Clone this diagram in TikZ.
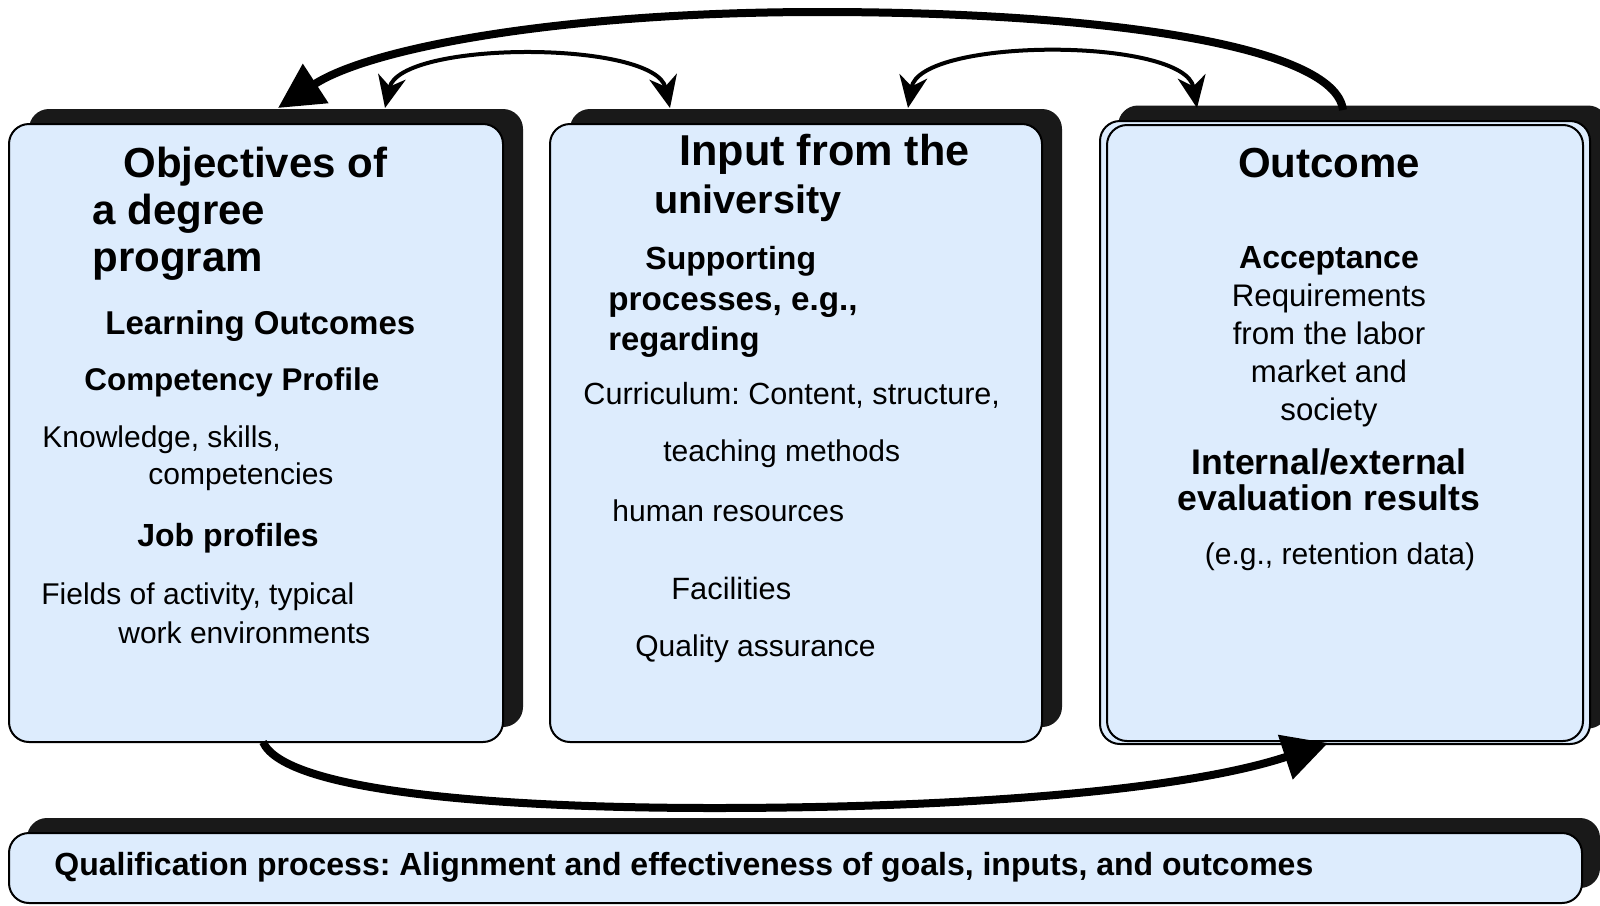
\documentclass[tikz,border=0pt]{standalone}
\usepackage{fontspec}
\setmainfont{Liberation Sans}
\frenchspacing
\usetikzlibrary{arrows.meta}
\definecolor{boxblue}{RGB}{221,236,253}
\begin{document}
\begin{tikzpicture}[x=0.5pt,y=-0.5pt,
  box/.style={draw=black, line width=1pt, fill=boxblue, rounded corners=10pt, inner sep=0pt},
  shade/.style={fill=black!90, draw=none, rounded corners=10pt, inner sep=0pt},
  ttl/.style={anchor=base west, inner sep=0pt, font=\fontsize{21}{24}\selectfont\bfseries},
  sub/.style={anchor=base west, inner sep=0pt, font=\fontsize{16}{19}\selectfont\bfseries},
  txt/.style={anchor=base west, inner sep=0pt, font=\fontsize{15}{18}\selectfont},
  ctr/.style={anchor=base},
  bigarrow/.style={line width=4pt, -{Triangle[length=22.5pt, width=22.5pt]}},
  twoway/.style={line width=2pt, {Stealth[length=16pt, width=14pt, inset=5pt]}-{Stealth[length=16pt, width=14pt, inset=5pt]}}
]
\useasboundingbox (0,0) rectangle (1600,905);

% shadows
\node[shade, minimum width=247pt, minimum height=309pt] (s1) at (276,418) {};
\node[shade, minimum width=246pt, minimum height=309pt] (s2) at (816,418) {};
\node[shade, minimum width=245pt, minimum height=311.5pt] (s3) at (1363,417) {};
\node[shade, minimum width=786.5pt, minimum height=35pt] (s4) at (813.5,853) {};

% boxes
\node[box, minimum width=247pt, minimum height=309pt] (b1) at (256,433) {};
\node[box, minimum width=246pt, minimum height=309pt] (b2) at (796,433) {};
\node[box, minimum width=245pt, minimum height=311.5pt] (b3back) at (1345,432.5) {};
\node[box, minimum width=238pt, minimum height=308pt] (b3) at (1345,433) {};
\node[box, minimum width=786.5pt, minimum height=35pt] (b4) at (795.5,868) {};

% box 1 text
\node[ttl] (t1a) at (123,177) {Objectives of};
\node[ttl] (t1b) at (92,224) {a degree};
\node[ttl] (t1c) at (92,271) {program};
\node[sub, font=\fontsize{16.5}{19}\selectfont\bfseries] (t1d) at (105,334) {Learning Outcomes};
\node[sub, font=\fontsize{15.7}{19}\selectfont\bfseries] (t1e) at (84,390) {Competency Profile};
\node[txt] (t1f) at (42,447) {Knowledge, skills,};
\node[txt] (t1g) at (148,484) {competencies};
\node[sub] (t1h) at (137,546) {Job profiles};
\node[txt] (t1i) at (41,604) {Fields of activity, typical};
\node[txt] (t1j) at (118,643) {work environments};

% box 2 text
\node[ttl, font=\fontsize{21.6}{24}\selectfont\bfseries] (t2a) at (679,165) {Input from the};
\node[ttl, font=\fontsize{19.8}{24}\selectfont\bfseries] (t2b) at (654,213) {university};
\node[sub] (t2c) at (645,269) {Supporting};
\node[sub, font=\fontsize{16.6}{19}\selectfont\bfseries] (t2d) at (608,310) {processes, e.g.,};
\node[sub, font=\fontsize{16.4}{19}\selectfont\bfseries] (t2e) at (608,350) {regarding};
\node[txt, font=\fontsize{15.3}{18}\selectfont] (t2f) at (583,404) {Curriculum: Content, structure,};
\node[txt] (t2g) at (663,461) {teaching methods};
\node[txt] (t2h) at (612,521) {human resources};
\node[txt, font=\fontsize{15.4}{18}\selectfont] (t2i) at (671,599) {Facilities};
\node[txt] (t2j) at (635,656) {Quality assurance};

% box 3 text
\node[ttl, ctr] (t3a) at (1329,177) {Outcome};
\node[sub, ctr] (t3b) at (1329,268) {Acceptance};
\node[txt, ctr, font=\fontsize{15.6}{18}\selectfont] (t3c) at (1329,306) {Requirements};
\node[txt, ctr, font=\fontsize{15.6}{18}\selectfont] (t3d) at (1329,344) {from the labor};
\node[txt, ctr, font=\fontsize{15.6}{18}\selectfont] (t3e) at (1329,382) {market and};
\node[txt, ctr, font=\fontsize{15.6}{18}\selectfont] (t3f) at (1329,420) {society};
\node[sub, ctr, font=\fontsize{17.8}{19}\selectfont\bfseries] (t3g) at (1329,474) {Internal/external};
\node[sub, ctr, font=\fontsize{17.8}{19}\selectfont\bfseries] (t3h) at (1329,510) {evaluation results};
\node[txt, ctr] (t3i) at (1340,564) {(e.g., retention data)};

% bottom text
\node[sub, font=\fontsize{16}{18}\selectfont\bfseries] (t4) at (54,875) {Qualification process: Alignment and effectiveness of goals, inputs, and outcomes};

% connector end points
\coordinate (p1) at (1343,110);
\coordinate (p2) at (278,108);
\coordinate (p3) at (385,108);
\coordinate (p4) at (670,108);
\coordinate (p5) at (908,108);
\coordinate (p6) at (1197,108);
\coordinate (p7) at (263,742);
\coordinate (p8) at (1328,743);

% arrows
\draw[bigarrow] (p1) .. controls (1335,45) and (1100,12) .. (820,12)
                     .. controls (560,12) and (370,48) .. (p2);
\draw[twoway] (p3) .. controls (400,40) and (655,40) .. (p4);
\draw[twoway] (p5) .. controls (920,37) and (1185,37) .. (p6);
\draw[bigarrow] (p7) .. controls (285,792) and (500,808) .. (714,808)
                     .. controls (950,808) and (1180,792) .. (p8);
\end{tikzpicture}
\end{document}
